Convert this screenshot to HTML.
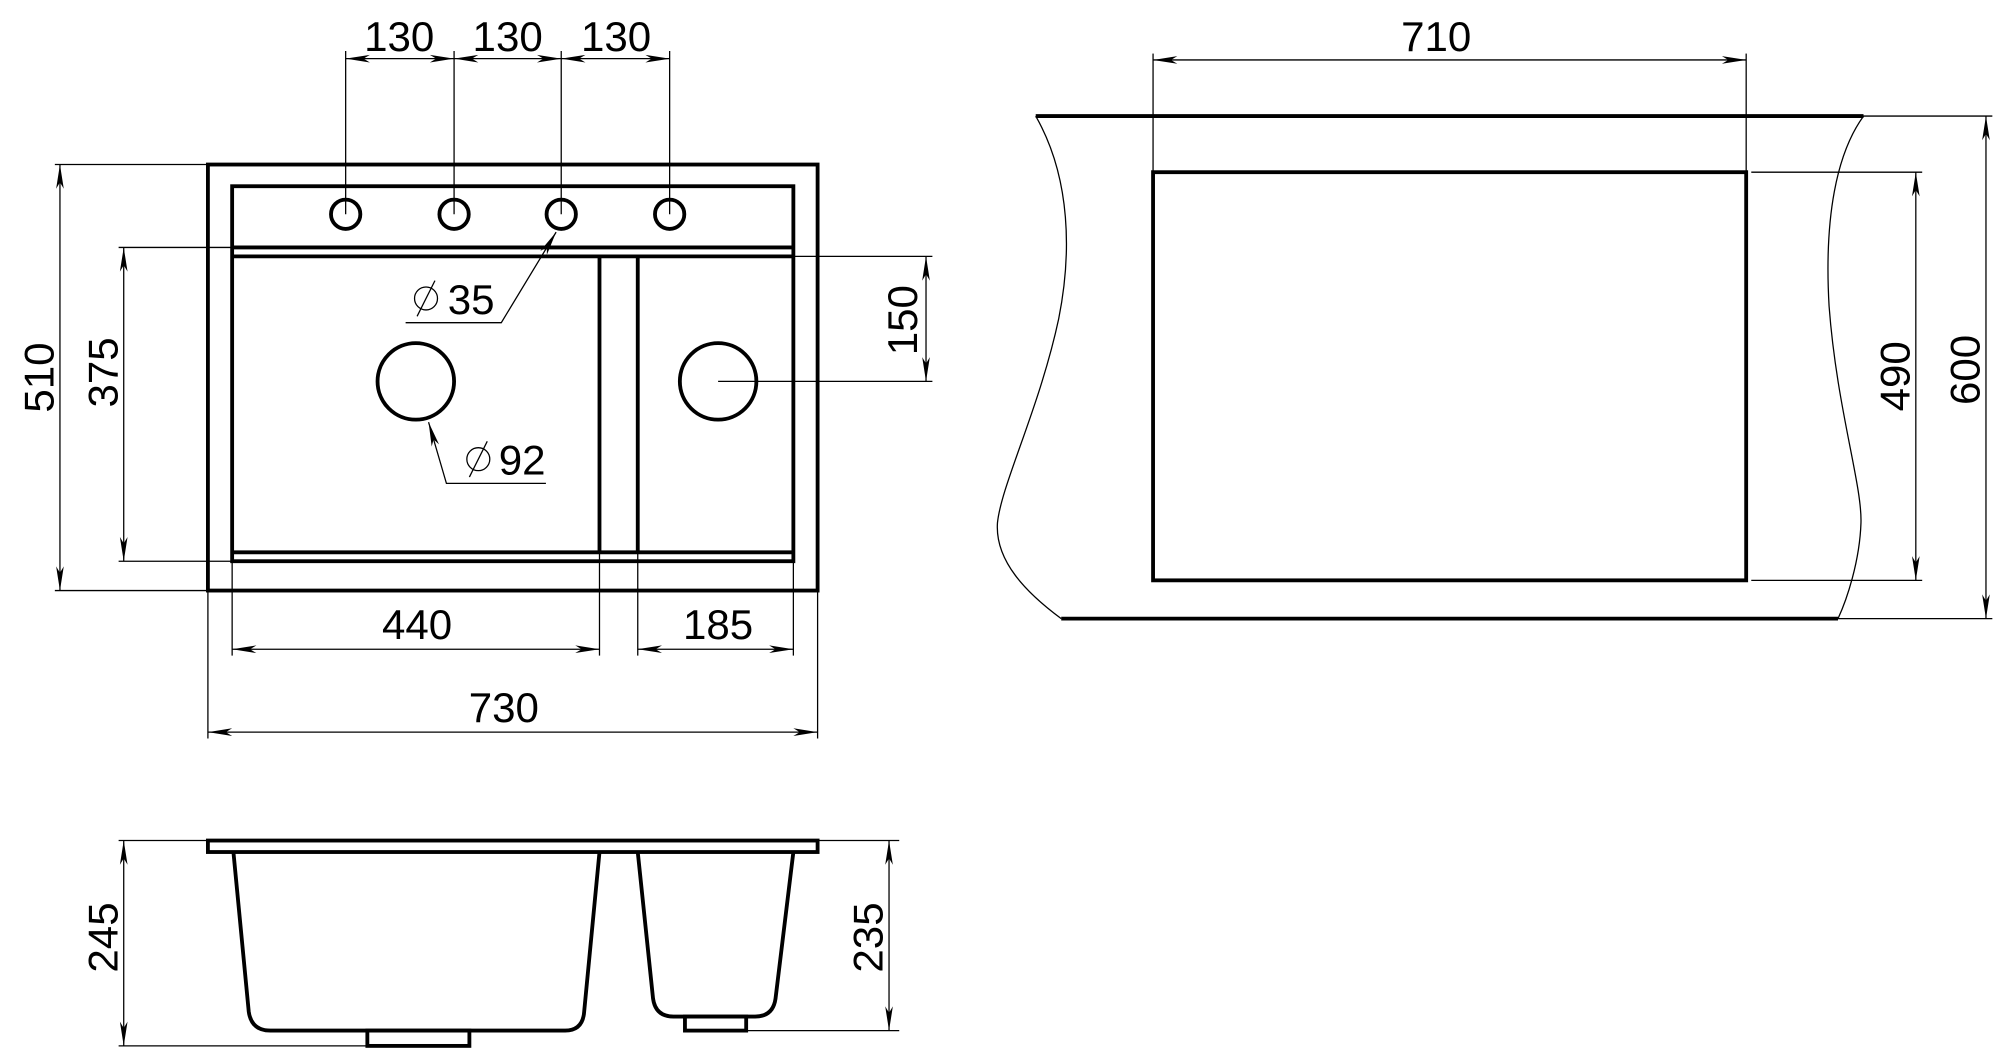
<!DOCTYPE html>
<html><head><meta charset="utf-8"><style>
html,body{margin:0;padding:0;background:#fff;}
svg{display:block;}
text{font-family:"Liberation Sans",sans-serif;font-size:33px;fill:#000;}
</style></head><body>
<svg width="2000" height="1051" viewBox="0 0 1568 824" preserveAspectRatio="none" xmlns="http://www.w3.org/2000/svg">
<defs>
<marker id="a" markerUnits="userSpaceOnUse" markerWidth="20" markerHeight="8" refX="0" refY="4" orient="auto-start-reverse" viewBox="-20 0 20 8">
<path d="M0,4 L-19,1 L-14,4 L-19,7 Z" fill="#000"/>
</marker>
</defs>
<g fill="none" stroke="#000">
<!-- TOP VIEW -->
<g stroke-width="3">
<rect x="163" y="129" width="478" height="334"/>
<rect x="182" y="146" width="440" height="294"/>
<line x1="182" y1="194" x2="622" y2="194"/>
<line x1="182" y1="201" x2="622" y2="201"/>
<line x1="182" y1="433" x2="622" y2="433"/>
<line x1="470" y1="201" x2="470" y2="433"/>
<line x1="500" y1="201" x2="500" y2="433"/>
<circle cx="271" cy="168" r="11.5"/>
<circle cx="356" cy="168" r="11.5"/>
<circle cx="440" cy="168" r="11.5"/>
<circle cx="525" cy="168" r="11.5"/>
<circle cx="326" cy="299" r="30"/>
<circle cx="563" cy="299" r="30"/>
</g>
<g stroke-width="1">
<line x1="271" y1="40" x2="271" y2="168"/>
<line x1="356" y1="40" x2="356" y2="168"/>
<line x1="440" y1="40" x2="440" y2="168"/>
<line x1="525" y1="40" x2="525" y2="168"/>
<line x1="271" y1="46" x2="356" y2="46" marker-start="url(#a)" marker-end="url(#a)"/>
<line x1="356" y1="46" x2="440" y2="46" marker-start="url(#a)" marker-end="url(#a)"/>
<line x1="440" y1="46" x2="525" y2="46" marker-start="url(#a)" marker-end="url(#a)"/>
<line x1="43" y1="129" x2="163" y2="129"/>
<line x1="43" y1="463" x2="163" y2="463"/>
<line x1="47" y1="129" x2="47" y2="463" marker-start="url(#a)" marker-end="url(#a)"/>
<line x1="93" y1="194" x2="182" y2="194"/>
<line x1="93" y1="440" x2="182" y2="440"/>
<line x1="97" y1="194" x2="97" y2="440" marker-start="url(#a)" marker-end="url(#a)"/>
<line x1="622" y1="201" x2="731" y2="201"/>
<line x1="563" y1="299" x2="731" y2="299"/>
<line x1="726" y1="201" x2="726" y2="299" marker-start="url(#a)" marker-end="url(#a)"/>
<polyline points="318,253 393,253 436,182" marker-end="url(#a)"/>
<polyline points="428,379 350,379 336,331" marker-end="url(#a)"/>
<line x1="182" y1="440" x2="182" y2="514"/>
<line x1="470" y1="433" x2="470" y2="514"/>
<line x1="500" y1="433" x2="500" y2="514"/>
<line x1="622" y1="440" x2="622" y2="514"/>
<line x1="182" y1="509" x2="470" y2="509" marker-start="url(#a)" marker-end="url(#a)"/>
<line x1="500" y1="509" x2="622" y2="509" marker-start="url(#a)" marker-end="url(#a)"/>
<line x1="163" y1="463" x2="163" y2="579"/>
<line x1="641" y1="463" x2="641" y2="579"/>
<line x1="163" y1="574" x2="641" y2="574" marker-start="url(#a)" marker-end="url(#a)"/>
</g>
<!-- RIGHT VIEW -->
<g stroke-width="3">
<line x1="812" y1="91" x2="1461" y2="91"/>
<line x1="832" y1="485" x2="1441" y2="485"/>
<rect x="904" y="135" width="465" height="320"/>
</g>
<g stroke-width="1">
<path d="M812,91 C840,140 840,200 830,250 C815,320 785,380 782,410 C780,440 805,465 832,485"/>
<path d="M1461,91 C1440,120 1430,170 1434,240 C1440,320 1460,380 1459,410 C1458,440 1448,470 1441,485"/>
<line x1="904" y1="42" x2="904" y2="135"/>
<line x1="1369" y1="42" x2="1369" y2="135"/>
<line x1="904" y1="47" x2="1369" y2="47" marker-start="url(#a)" marker-end="url(#a)"/>
<line x1="1373" y1="135" x2="1507" y2="135"/>
<line x1="1373" y1="455" x2="1507" y2="455"/>
<line x1="1502" y1="135" x2="1502" y2="455" marker-start="url(#a)" marker-end="url(#a)"/>
<line x1="1461" y1="91" x2="1562" y2="91"/>
<line x1="1441" y1="485" x2="1562" y2="485"/>
<line x1="1557" y1="91" x2="1557" y2="485" marker-start="url(#a)" marker-end="url(#a)"/>
</g>
<!-- SIDE VIEW -->
<g stroke-width="3">
<rect x="163" y="659" width="478" height="9"/>
<path d="M183,668 L195,793 Q197,808 212,808 L443,808 Q457,808 458,793 L470,668"/>
<rect x="288" y="808" width="80" height="12"/>
<path d="M500,668 L512,783 Q514,797 528,797 L592,797 Q606,797 608,783 L622,668"/>
<rect x="537" y="797" width="48" height="11"/>
</g>
<g stroke-width="1">
<line x1="93" y1="659" x2="163" y2="659"/>
<line x1="93" y1="820" x2="288" y2="820"/>
<line x1="97" y1="659" x2="97" y2="820" marker-start="url(#a)" marker-end="url(#a)"/>
<line x1="641" y1="659" x2="705" y2="659"/>
<line x1="585" y1="808" x2="705" y2="808"/>
<line x1="697" y1="659" x2="697" y2="808" marker-start="url(#a)" marker-end="url(#a)"/>
</g>
</g>
<!-- TEXT -->
<text x="313" y="40" text-anchor="middle">130</text>
<text x="398" y="40" text-anchor="middle">130</text>
<text x="483" y="40" text-anchor="middle">130</text>
<text x="1126" y="40" text-anchor="middle">710</text>
<text x="327" y="501" text-anchor="middle">440</text>
<text x="563" y="501" text-anchor="middle">185</text>
<text x="395" y="566" text-anchor="middle">730</text>
<text x="351" y="246" text-anchor="start">35</text>
<text x="391" y="372" text-anchor="start">92</text>
<g fill="none" stroke="#000" stroke-width="1">
<circle cx="334" cy="234" r="9"/><line x1="327" y1="248" x2="341" y2="220"/>
<circle cx="375" cy="360" r="9"/><line x1="368" y1="374" x2="382" y2="346"/>
</g>
<text transform="translate(42,296) rotate(-90)" text-anchor="middle">510</text>
<text transform="translate(92,292) rotate(-90)" text-anchor="middle">375</text>
<text transform="translate(719,251) rotate(-90)" text-anchor="middle">150</text>
<text transform="translate(1497,295) rotate(-90)" text-anchor="middle">490</text>
<text transform="translate(1552,290) rotate(-90)" text-anchor="middle">600</text>
<text transform="translate(92,735) rotate(-90)" text-anchor="middle">245</text>
<text transform="translate(692,735) rotate(-90)" text-anchor="middle">235</text>
</svg>
</body></html>
